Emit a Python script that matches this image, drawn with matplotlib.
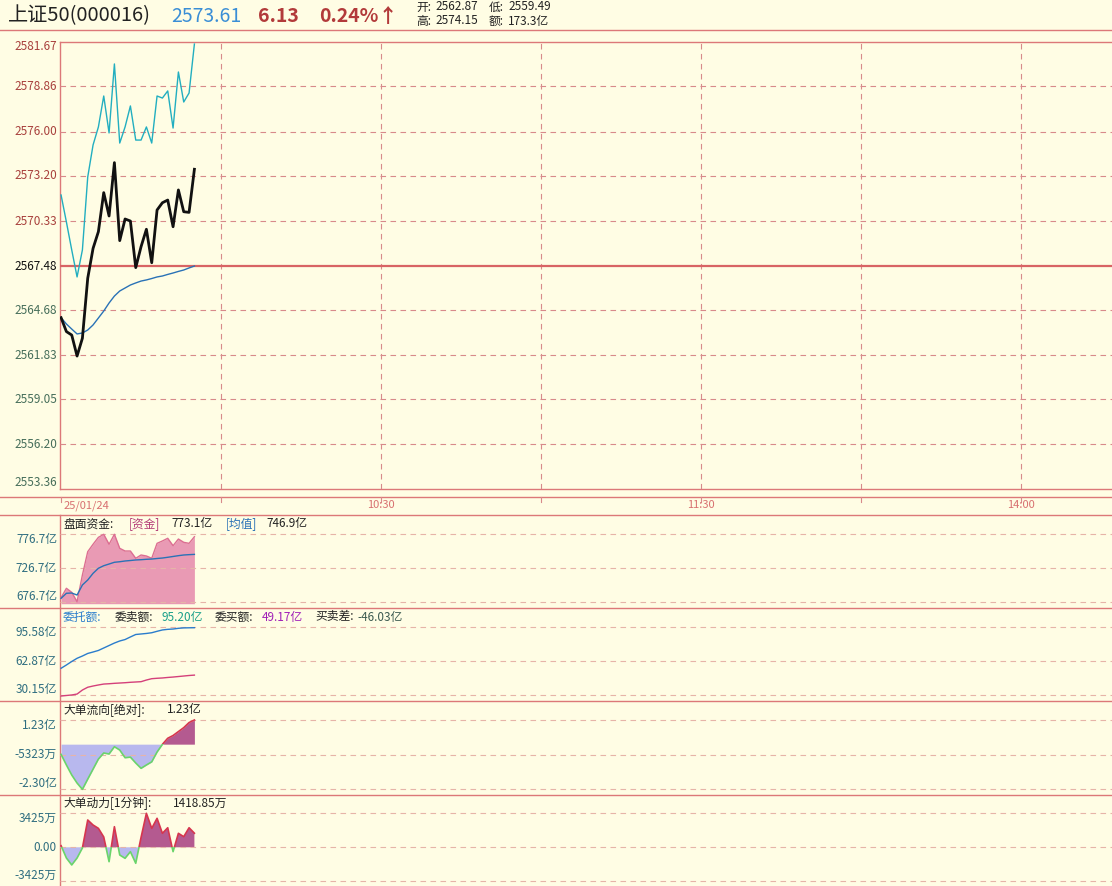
import numpy as np
import matplotlib.pyplot as plt
from matplotlib.transforms import offset_copy
from matplotlib.patches import Rectangle

plt.rcParams['font.family'] = ['Noto Sans CJK SC', 'DejaVu Sans']
plt.rcParams['axes.unicode_minus'] = False

# one value per minute from 9:30
minutes = np.arange(26)
price = [2564.21, 2563.33, 2563.11, 2561.78, 2562.91, 2566.71, 2568.60, 2569.66, 2572.13, 2570.65,
         2574.03, 2569.09, 2570.46, 2570.33, 2567.38, 2568.71, 2569.81, 2567.69, 2571.03, 2571.49,
         2571.66, 2569.97, 2572.30, 2570.92, 2570.88, 2573.61]
lead = [2571.98, 2570.27, 2568.50, 2566.79, 2568.50, 2573.12, 2575.15, 2576.29, 2578.25, 2575.91,
        2580.28, 2575.27, 2576.29, 2577.62, 2575.46, 2575.46, 2576.29, 2575.27, 2578.25, 2578.12,
        2578.57, 2576.22, 2579.77, 2577.87, 2578.44, 2581.54]
avg_price = [2564.21, 2563.81, 2563.49, 2563.18, 2563.24, 2563.43, 2563.75, 2564.19, 2564.63, 2565.14,
             2565.58, 2565.90, 2566.09, 2566.28, 2566.41, 2566.53, 2566.60, 2566.69, 2566.79, 2566.85,
             2566.95, 2567.04, 2567.14, 2567.23, 2567.36, 2567.48]
# 盘面资金 (亿)
fund = [682.6, 696.6, 690.6, 676.7, 716.3, 750.9, 761.9, 772.2, 776.7, 761.9,
        776.7, 755.9, 751.9, 751.9, 741.1, 746.0, 744.5, 741.1, 763.3, 766.8,
        770.8, 759.8, 769.7, 764.8, 763.3, 773.1]
fund_avg = [681.7, 689.2, 689.6, 686.6, 701.5, 708.9, 718.8, 726.3, 730.1, 732.6,
            735.2, 736.0, 737.1, 737.8, 738.6, 739.0, 739.6, 740.0, 740.8, 741.5,
            742.6, 743.8, 745.0, 746.0, 746.5, 746.9]
# 委托额 (亿)
sell_amt = [55.8, 59.0, 62.4, 65.5, 67.7, 70.2, 71.6, 73.1, 75.5, 77.9,
            80.3, 82.3, 83.7, 86.2, 88.6, 89.1, 89.6, 90.3, 91.7, 93.0,
            93.6, 93.9, 94.6, 95.0, 95.1, 95.20]
buy_amt = [28.9, 29.4, 29.9, 30.8, 34.7, 37.4, 38.6, 39.6, 40.5, 40.8,
           41.2, 41.5, 41.8, 42.2, 42.5, 42.8, 44.4, 45.7, 46.1, 46.4,
           46.9, 47.3, 47.8, 48.3, 48.8, 49.17]
# 大单流向 (亿)
big_flow = [-0.52, -1.06, -1.57, -1.98, -2.30, -1.78, -1.27, -0.76, -0.45, -0.50,
            -0.13, -0.30, -0.69, -0.66, -0.96, -1.23, -1.06, -0.90, -0.40, -0.01,
            0.30, 0.44, 0.64, 0.84, 1.10, 1.23]
# 大单动力 (万)
big_power = [160, -1080, -1780, -1080, -70, 2750, 2245, 1910, 1040, -1450,
             2075, -775, -1110, -440, -1610, 1000, 3425, 1910, 2920, 1410,
             1970, -440, 1410, 1070, 1970, 1418.85]

prev_close = 2567.48
price_ticks = [2581.67, 2578.86, 2576.00, 2573.20, 2570.33, 2567.48,
               2564.68, 2561.83, 2559.05, 2556.20, 2553.36]
time_grid = [30, 60, 90, 120, 150, 180]
time_labels = {60: '10:30', 120: '11:30', 180: '14:00'}

W, H = 1112, 886
BG = '#fffde4'
LINE = '#dc7878'
GRID = '#d88a8a'
GRID2 = '#e6b4a8'
AXIS_TXT = '#2f6e80'
XLIM = (-0.2, 197.05)

fig = plt.figure(figsize=(W / 100, H / 100), dpi=100, facecolor=BG)


def px_axes(x0, y0, x1, y1):
    ax = fig.add_axes([x0 / W, 1 - y1 / H, (x1 - x0) / W, (y1 - y0) / H])
    ax.set_facecolor('none')
    ax.axis('off')
    return ax


def px_text(x, y, s, **kw):
    fig.text(x / W, 1 - y / H, s, va='center', **kw)


# frame lines
frame = px_axes(0, 0, W, H)
frame.set_xlim(0, W)
frame.set_ylim(H, 0)
for y in [30, 497, 515, 608, 701, 795]:
    frame.plot([0, W], [y, y], color=LINE, lw=1)
for y in [42, 489]:
    frame.plot([60, W], [y, y], color=LINE, lw=1)
frame.plot([60, 60], [42, 489], color=LINE, lw=1)
frame.plot([60, 60], [515, H], color=LINE, lw=1)

# header
px_text(8, 16, '上证50(000016)', fontsize=14.5, color='#222222')
px_text(171, 16, '2573.61', fontsize=14, color='#3a8ed6')
px_text(258, 16, '6.13', fontsize=14, color='#b23a3a', fontweight='bold')
px_text(319, 16, '0.24%↑', fontsize=14, color='#b23a3a', fontweight='bold')
px_text(416, 7, '开:', fontsize=8.5, color='#222222')
px_text(435, 7, '2562.87', fontsize=8.5, color='#222222')
px_text(489, 7, '低:', fontsize=8.5, color='#222222')
px_text(508, 7, '2559.49', fontsize=8.5, color='#222222')
px_text(416, 21, '高:', fontsize=8.5, color='#222222')
px_text(435, 21, '2574.15', fontsize=8.5, color='#222222')
px_text(489, 21, '额:', fontsize=8.5, color='#222222')
px_text(508, 21, '173.3亿', fontsize=8.5, color='#222222')

# main price chart
ax = px_axes(60, 42, W, 489)
ax.set_xlim(*XLIM)
ax.set_ylim(price_ticks[-1], price_ticks[0])
for t in time_grid:
    ax.axvline(t, color=GRID, lw=0.8, ls=(0, (5, 4)))
for v in price_ticks[1:-1]:
    if v == prev_close:
        ax.axhline(v, color='#d86464', lw=1.6)
    else:
        ax.axhline(v, color=GRID, lw=0.8, ls=(0, (5, 4)))
ax.plot(minutes, lead, color='#22aec0', lw=1)
ax.plot(minutes, avg_price, color='#2a72b6', lw=1)
ax.plot(minutes, price, color='#111111', lw=2)
trans = ax.get_yaxis_transform()
for i, v in enumerate(price_ticks):
    dy = -5 if i == 0 else (6 if i == len(price_ticks) - 1 else 0)
    if v > prev_close:
        c = '#a8403c'
    elif v == prev_close:
        c = '#111111'
    else:
        c = '#466e5a'
    ax.text(0, v, f'{v:.2f}', transform=offset_copy(trans, fig=fig, x=-3, y=dy, units='dots'),
            ha='right', va='center', fontsize=8.5, color=c)

# time band
band = px_axes(60, 489, W, 515)
band.set_xlim(*XLIM)
band.set_ylim(26, 0)
for t in [0] + time_grid:
    band.plot([t, t], [8, 13], color=GRID, lw=0.8)
band.text(0.4, 16.5, '25/01/24', ha='left', va='center', fontsize=8, color='#d87070')
for t, lab in time_labels.items():
    band.text(t, 16.5, lab, ha='center', va='center', fontsize=8, color='#d87070')


def panel(y0, y1, ylim, grid_vals, labels):
    p = px_axes(60, y0, W, y1)
    p.set_xlim(*XLIM)
    p.set_ylim(*ylim)
    for v in grid_vals:
        p.axhline(v, color=GRID2, lw=0.8, ls=(0, (5, 4)))
    tr = p.get_yaxis_transform()
    for v, lab, dy in zip(grid_vals, labels, [-5.5, 0, 5.5]):
        p.text(0, v, lab, transform=offset_copy(tr, fig=fig, x=-3, y=dy, units='dots'),
               ha='right', va='center', fontsize=8.5, color=AXIS_TXT)
    return p


def signed_area(p, y, top, bottom):
    y = np.asarray(y, dtype=float)
    p.fill_between(minutes, 0, y, where=y >= 0, interpolate=True, color='#b45a90', lw=0)
    p.fill_between(minutes, 0, y, where=y <= 0, interpolate=True, color='#b8b8ee', lw=0)
    up = p.plot(minutes, y, color='#d6364e', lw=1.2)[0]
    up.set_clip_path(Rectangle((XLIM[0], 0), XLIM[1] - XLIM[0], top, transform=p.transData))
    dn = p.plot(minutes, y, color='#6ad46a', lw=1.2)[0]
    dn.set_clip_path(Rectangle((XLIM[0], bottom), XLIM[1] - XLIM[0], -bottom, transform=p.transData))


# 盘面资金
p1 = panel(515, 608, (667.35, 805.34), [776.7, 726.7, 676.7], ['776.7亿', '726.7亿', '676.7亿'])
p1.fill_between(minutes, 673.7, fund, color='#e99ab4', lw=0)
p1.plot(minutes, fund, color='#dc6e92', lw=1)
p1.plot(minutes, fund_avg, color='#2a72b6', lw=1)
px_text(63, 524, '盘面资金:', fontsize=8.5, color='#222222')
px_text(129, 524, '[资金]', fontsize=8.5, color='#b43c78')
px_text(171, 524, '773.1亿', fontsize=8.5, color='#222222')
px_text(226, 524, '[均值]', fontsize=8.5, color='#2a72b6')
px_text(266, 524, '746.9亿', fontsize=8.5, color='#222222')

# 委托额
p2 = panel(608, 701, (24.05, 114.31), [95.58, 62.87, 30.15], ['95.58亿', '62.87亿', '30.15亿'])
p2.plot(minutes, sell_amt, color='#2a7ccc', lw=1)
p2.plot(minutes, buy_amt, color='#d4407a', lw=1)
px_text(63, 617, '委托额:', fontsize=8.5, color='#2a7ccc')
px_text(115, 617, '委卖额:', fontsize=8.5, color='#222222')
px_text(162, 617, '95.20亿', fontsize=8.5, color='#1aa08a')
px_text(215, 617, '委买额:', fontsize=8.5, color='#222222')
px_text(262, 617, '49.17亿', fontsize=8.5, color='#a020b8')
px_text(315, 617, '买卖差:', fontsize=8.5, color='#222222')
px_text(357, 617, '-46.03亿', fontsize=8.5, color='#3c5a50')

# 大单流向
p3 = panel(701, 795, (-2.5875, 2.197), [1.23, -0.5323, -2.30], ['1.23亿', '-5323万', '-2.30亿'])
signed_area(p3, big_flow, 2.197, -2.5875)
px_text(63, 710, '大单流向[绝对]:', fontsize=8.5, color='#222222')
px_text(167, 710, '1.23亿', fontsize=8.5, color='#222222')

# 大单动力
p4 = panel(795, 886, (-3897, 5267), [3425, 0, -3425], ['3425万', '0.00', '-3425万'])
signed_area(p4, big_power, 5267, -3897)
px_text(63, 803, '大单动力[1分钟]:', fontsize=8.5, color='#222222')
px_text(173, 803, '1418.85万', fontsize=8.5, color='#222222')

fig.savefig('out.png', dpi=100, facecolor=BG)
